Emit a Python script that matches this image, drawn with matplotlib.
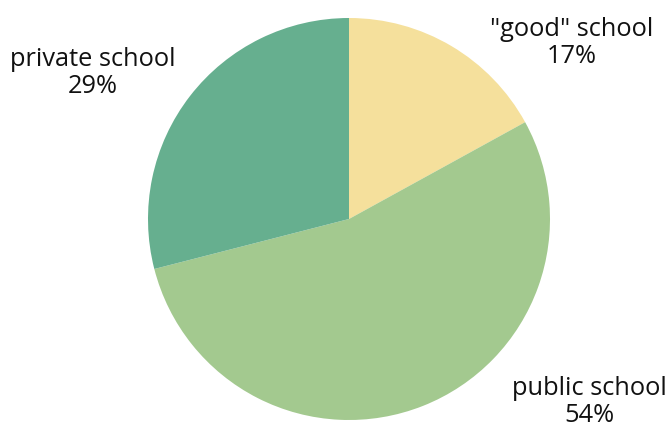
import matplotlib.pyplot as plt

plt.rcParams["font.family"] = ["Open Sans", "DejaVu Sans"]

labels = ['"good" school', "public school", "private school"]
shares = [17, 54, 29]
colors = ["#F5E09C", "#A3C98F", "#66AF8F"]

fig = plt.figure(figsize=(6.72, 4.29), dpi=100)
ax = fig.add_axes([0, 0, 1, 1])

ax.pie(shares, colors=colors, startangle=90, counterclock=False,
       center=(349, 210), radius=201, frame=True)
ax.set_xlim(0, 672)
ax.set_ylim(0, 429)
ax.set_aspect("equal")
ax.axis("off")

# label positions (pixel coords, origin bottom-left)
label_pos = [(572, 386), (589, 27), (93, 356)]
for lab, s, (x, y) in zip(labels, shares, label_pos):
    ax.text(x, y, f"{lab}\n{s}%", ha="center", va="center", fontsize=18.3,
            linespacing=1.08, color="#111111")

fig.savefig("out.png", dpi=100)
